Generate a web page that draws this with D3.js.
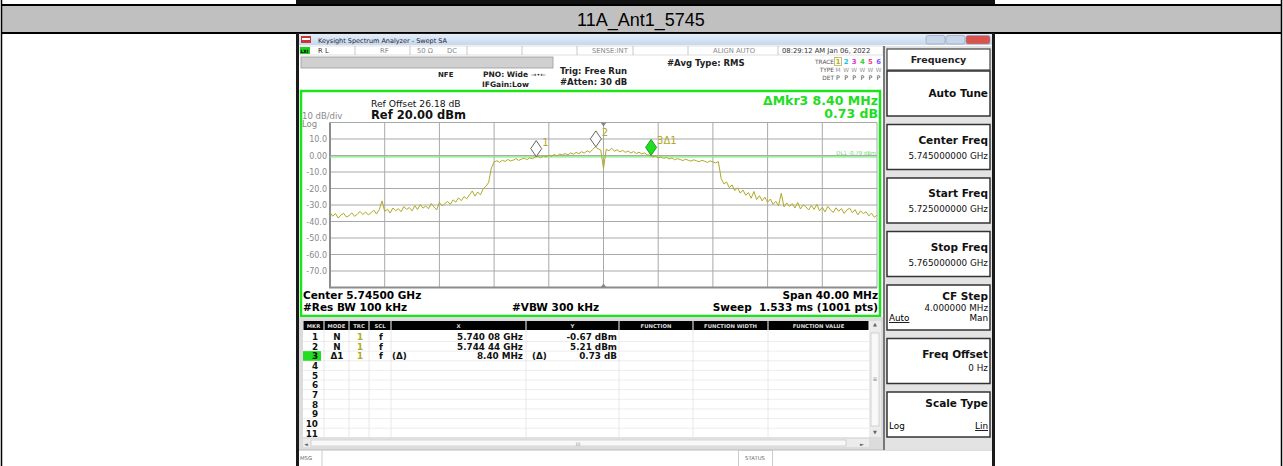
<!DOCTYPE html>
<html>
<head>
<meta charset="utf-8">
<script src="https://cdn.jsdelivr.net/npm/d3@7/dist/d3.min.js"></script>
<style>
body{margin:0;background:#fff;}
svg text{font-family:"DejaVu Sans",Verdana,sans-serif;}
svg text.title{font-family:"Liberation Sans",Arial,sans-serif;}
</style>
</head>
<body>
<svg id="chart" width="1283" height="466"></svg>
<script>
var title = "11A_Ant1_5745";
var freqStart = 5725, freqStop = 5765, freqStep = 0.2;   // MHz
var refLevel = 20, bottomLevel = -80;
var yTicks = [10, 0, -10, -20, -30, -40, -50, -60, -70];
var xGrid = [5725, 5729, 5733, 5737, 5741, 5745, 5749, 5753, 5757, 5761, 5765];

// trace 1, dBm, one value every 0.2 MHz
var traceDbm = [
 -34.5,-36.8,-35.2,-37.9,-36.1,-35.0,-37.3,-36.4,-34.8,-36.9,
 -35.5,-33.9,-35.8,-34.2,-36.0,-34.7,-33.1,-35.4,-32.9,-27.5,
 -33.8,-32.6,-34.9,-31.8,-33.5,-32.2,-34.1,-30.9,-32.7,-31.5,
 -33.6,-30.4,-32.8,-29.7,-31.9,-30.6,-32.3,-29.1,-31.2,-33.0,
 -28.4,
 -30.5,-29.2,-27.8,-29.6,-26.9,-28.3,-25.7,-27.4,-24.9,-26.2,
 -23.8,-21.5,-24.6,-22.1,-23.9,-20.2,-18.7,-16.4,
 -7.5,-3.9,
 -3.2,-4.1,-2.9,-3.6,-2.4,-3.3,-2.8,-1.9,-3.0,-2.2,-1.6,-2.5,-1.4,-2.0,-0.9,
 -0.6,-1.3,-0.2,-0.9,0.1,-0.5,0.6,-0.2,0.9,0.3,1.2,0.4,1.6,0.8,1.9,1.1,2.3,1.5,2.8,1.9,
 3.6,5.2,4.1,3.3,
 -7.8,
 3.8,2.9,4.4,2.6,3.5,2.2,3.1,1.9,2.7,1.5,2.4,1.2,2.0,0.9,1.6,0.4,0.1,
 -0.8,-0.3,-1.4,-0.9,-1.8,-1.2,-2.1,-1.5,-2.6,-1.9,-2.4,-3.1,-2.2,-2.9,-3.4,-2.6,-3.2,-3.8,-2.9,-3.5,-4.2,-3.3,-3.9,-4.5,-3.7,
 -13.8,-17.2,-16.1,-19.5,-17.8,-21.3,-19.6,-22.8,-20.9,-24.1,-22.5,-25.9,-21.8,-26.7,-24.4,-27.5,-25.2,-28.3,
 -26.4,-29.6,-27.8,-30.4,-22.9,-31.2,-28.7,-30.9,-29.1,-31.8,
 -28.5,-32.4,-29.9,-31.1,-33.0,-30.2,-32.7,-29.6,-33.5,-31.4,
 -34.2,-30.8,-32.9,-34.6,-31.7,-33.8,-32.2,-35.1,-33.0,-31.9,
 -34.7,-32.8,-36.0,-33.5,-35.2,-34.1,-36.6,-35.0,-37.4,-36.2
];

var markerLabels = ["1", "2", "3\u03941"];
var markerFreqs = [5740.08, 5744.44, 5748.48];
var markerLevels = [-0.67, 5.21, 0.06];
var markerFilled = [false, false, true];
var displayLine = -0.79;

var tableHeaders = ["MKR", "MODE", "TRC", "SCL", "X", "Y", "FUNCTION", "FUNCTION WIDTH", "FUNCTION VALUE"];
var tableMkr = ["1","2","3","4","5","6","7","8","9","10","11"];
var tableMode = ["N", "N", "\u03941"];
var tableX = ["5.740 08 GHz", "5.744 44 GHz", "8.40 MHz"];
var tableY = ["-0.67 dBm", "5.21 dBm", "0.73 dB"];

var softLabels = ["Auto Tune", "Center Freq", "Start Freq", "Stop Freq", "CF Step", "Freq Offset", "Scale Type"];
var softValues = ["", "5.745000000 GHz", "5.725000000 GHz", "5.765000000 GHz", "4.000000 MHz", "0 Hz", ""];

var svg = d3.select("#chart");
var green = "#19e619";
var olive = "#b0a926";

// ---- outer report table ----
svg.append("rect").attr("x", 296).attr("y", 0).attr("width", 699).attr("height", 4).attr("fill", "#111");
svg.append("rect").attr("x", 2).attr("y", 6).attr("width", 1279).attr("height", 27).attr("fill", "#c0c0c0");
[5, 33].forEach(function(yy){
    svg.append("line").attr("x1", 1).attr("x2", 1282).attr("y1", yy).attr("y2", yy)
        .attr("stroke", "#000").attr("stroke-width", 2);
});
[1.5, 1281.5].forEach(function(xx){
    svg.append("line").attr("x1", xx).attr("x2", xx).attr("y1", 0).attr("y2", 466)
        .attr("stroke", "#000").attr("stroke-width", 1.5);
});
svg.append("text").attr("class", "title").attr("x", 641).attr("y", 26).attr("text-anchor", "middle")
    .style("font-size", "18px").attr("fill", "#000").text(title);

// ---- analyzer window frame ----
svg.append("rect").attr("x", 296).attr("y", 33).attr("width", 699).attr("height", 433).attr("fill", "#1a1a1a");
svg.append("rect").attr("x", 299).attr("y", 34).attr("width", 693).attr("height", 432).attr("fill", "#fff");
var tb = svg.append("defs").append("linearGradient").attr("id", "tbar").attr("x1", 0).attr("x2", 0).attr("y1", 0).attr("y2", 1);
tb.append("stop").attr("offset", 0).attr("stop-color", "#e4eef9");
tb.append("stop").attr("offset", 1).attr("stop-color", "#c6d8ee");
svg.append("rect").attr("x", 299).attr("y", 34).attr("width", 693).attr("height", 11).attr("fill", "url(#tbar)");
svg.append("rect").attr("x", 301).attr("y", 36).attr("width", 10).attr("height", 7).attr("fill", "#c33");
svg.append("rect").attr("x", 302).attr("y", 38).attr("width", 8).attr("height", 2).attr("fill", "#fff");
svg.append("text").attr("x", 318).attr("y", 42.5).style("font-size", "6.5px").attr("fill", "#223").text("Keysight Spectrum Analyzer - Swept SA");
[[926, "#c8d6ea"], [946, "#c8d6ea"], [966, "#d9534f"]].forEach(function(b){
    svg.append("rect").attr("x", b[0]).attr("y", 35.5).attr("width", b[0] == 966 ? 24 : 19).attr("height", 8.5)
        .attr("rx", 2).attr("fill", b[1]).attr("stroke", "#8a9bb5").attr("stroke-width", 0.6);
});

// status line
svg.append("rect").attr("x", 300).attr("y", 46).attr("width", 583).attr("height", 9).attr("fill", "#fff").attr("stroke", "#c8c8c8").attr("stroke-width", 0.6);
[355, 410, 467, 522, 577, 633, 688, 778].forEach(function(xx){
    svg.append("line").attr("x1", xx).attr("x2", xx).attr("y1", 46).attr("y2", 55).attr("stroke", "#bbb").attr("stroke-width", 0.8);
});
svg.append("rect").attr("x", 300).attr("y", 47).attr("width", 10).attr("height", 7).attr("fill", "#22cc22");
svg.append("text").attr("x", 300.5).attr("y", 53).style("font-size", "4.5px").style("font-weight", "bold").text("LXI");
var statusTexts = [[318, "R L", "#333"], [380, "RF", "#888"], [417, "50 \u03a9", "#888"], [447, "DC", "#888"],
    [592, "SENSE:INT", "#888"], [713, "ALIGN AUTO", "#888"], [782, "08:29:12 AM Jan 06, 2022", "#333"]];
statusTexts.forEach(function(t){
    svg.append("text").attr("x", t[0]).attr("y", 53).style("font-size", "6.8px").attr("fill", t[2]).text(t[1]);
});
svg.append("rect").attr("x", 301).attr("y", 57).attr("width", 252).attr("height", 11).attr("fill", "#d0d0d0").attr("stroke", "#999").attr("stroke-width", 0.8);

var infoTexts = [[438, 77, "NFE", 7], [483, 77, "PNO: Wide", 7.5], [482, 87, "IFGain:Low", 7.5],
    [560, 74, "Trig: Free Run", 8.5], [560, 85, "#Atten: 30 dB", 8.5], [667, 66, "#Avg Type: RMS", 8.5]];
infoTexts.forEach(function(t){
    svg.append("text").attr("x", t[0]).attr("y", t[1]).style("font-size", t[3] + "px").style("font-weight", "bold")
        .attr("fill", "#222").text(t[2]);
});
svg.append("text").attr("x", 531).attr("y", 76.5).style("font-size", "6.5px").attr("fill", "#333").text("\u2192\u2022\u2190");
[["TRACE", 64], ["TYPE", 72], ["DET", 80]].forEach(function(t){
    svg.append("text").attr("x", 834).attr("y", t[1]).attr("text-anchor", "end").style("font-size", "5.8px").attr("fill", "#555").text(t[0]);
});
var traceColors = [olive, "#17c6e6", "#e02ee0", "#2ed12e", "#ff3a7a", "#7a5cff"];
traceColors.forEach(function(c, i){
    var xx = 838 + i * 8.1;
    svg.append("text").attr("x", xx).attr("y", 64).attr("text-anchor", "middle").style("font-size", "6.8px").style("font-weight", "bold").attr("fill", c).text(i + 1);
    svg.append("text").attr("x", xx).attr("y", 72).attr("text-anchor", "middle").style("font-size", "5.8px").attr("fill", "#999").text(i == 0 ? "M" : "W");
    svg.append("text").attr("x", xx).attr("y", 80).attr("text-anchor", "middle").style("font-size", "6.3px").attr("fill", "#444").text("P");
});
svg.append("rect").attr("x", 834.5).attr("y", 57.5).attr("width", 7).attr("height", 8).attr("fill", "none").attr("stroke", olive).attr("stroke-width", 0.7);

// ---- plot panel ----
svg.append("rect").attr("x", 301).attr("y", 91).attr("width", 579).attr("height", 225)
    .attr("fill", "#fff").attr("stroke", green).attr("stroke-width", 2.5);

var x = d3.scaleLinear().domain([freqStart, freqStop]).range([330, 877]);
var y = d3.scaleLinear().domain([bottomLevel, refLevel]).range([287.5, 122.5]);

var grid = svg.append("g");
grid.selectAll("line.h").data(d3.range(bottomLevel, refLevel + 1, 10)).enter().append("line")
    .attr("x1", x(freqStart)).attr("x2", x(freqStop))
    .attr("y1", function(d){ return y(d); }).attr("y2", function(d){ return y(d); })
    .attr("stroke", "#a9a9a9").attr("stroke-width", 1);
grid.selectAll("line.v").data(xGrid).enter().append("line")
    .attr("x1", function(d){ return x(d); }).attr("x2", function(d){ return x(d); })
    .attr("y1", y(refLevel)).attr("y2", y(bottomLevel))
    .attr("stroke", "#a9a9a9").attr("stroke-width", 1);
grid.append("path")
    .attr("d", "M" + x(freqStart) + "," + y(refLevel) + "V" + y(bottomLevel) + "H" + x(freqStop))
    .attr("fill", "none").attr("stroke", "#8c8c8c").attr("stroke-width", 2);

var yAxis = d3.axisLeft(y).tickValues(yTicks).tickSize(0).tickPadding(3)
    .tickFormat(function(d){ return d == 0 ? "0.00" : d.toFixed(1); });
var ya = svg.append("g").attr("transform", "translate(" + x(freqStart) + ",0)").call(yAxis);
ya.select(".domain").remove();
ya.selectAll("text").style("font-size", "8px").style("font-family", "DejaVu Sans, Verdana, sans-serif").attr("fill", "#8a8a8a");

svg.append("text").attr("x", 302).attr("y", 119).style("font-size", "8.5px").attr("fill", "#8a8a8a").text("10 dB/div");
svg.append("text").attr("x", 302).attr("y", 127).style("font-size", "8.5px").attr("fill", "#8a8a8a").text("Log");
svg.append("text").attr("x", 371).attr("y", 107).style("font-size", "9.2px").attr("fill", "#111").text("Ref Offset 26.18 dB");
svg.append("text").attr("x", 371).attr("y", 119).style("font-size", "11.5px").style("font-weight", "bold").attr("fill", "#111").text("Ref 20.00 dBm");
svg.append("text").attr("x", 878).attr("y", 105).attr("text-anchor", "end").style("font-size", "12.5px").style("font-weight", "bold")
    .attr("fill", "#22dd22").text("\u0394Mkr3 8.40 MHz");
svg.append("text").attr("x", 878).attr("y", 118).attr("text-anchor", "end").style("font-size", "12.5px").style("font-weight", "bold")
    .attr("fill", "#22dd22").text("0.73 dB");

// display line
svg.append("line").attr("x1", x(freqStart)).attr("x2", x(freqStop)).attr("y1", y(displayLine)).attr("y2", y(displayLine))
    .attr("stroke", "#7ce87c").attr("stroke-width", 1.2);
svg.append("text").attr("x", 876).attr("y", y(displayLine) - 2).attr("text-anchor", "end").style("font-size", "5.3px")
    .attr("fill", "#6bdc6b").text("DL1 -0.79 dBm");

// center markers (triangles)
var cx = x((freqStart + freqStop) / 2);
svg.append("path").attr("d", "M" + (cx - 3) + "," + y(refLevel) + "h6l-3,4z").attr("fill", "#888");
svg.append("path").attr("d", "M" + (cx - 3) + "," + y(bottomLevel) + "h6l-3,-4z").attr("fill", "#888");

// trace
var line = d3.line()
    .x(function(d, i){ return x(freqStart + i * freqStep); })
    .y(function(d){ return y(d); });
svg.append("path").datum(traceDbm).attr("d", line).attr("fill", "none").attr("stroke", olive).attr("stroke-width", 1);

// markers
markerFreqs.forEach(function(f, i){
    var mx = x(f), my = y(markerLevels[i]);
    svg.append("path").attr("d", "M" + mx + "," + my + "l5.5,-8l-5.5,-8l-5.5,8z")
        .attr("fill", markerFilled[i] ? "#22dd22" : "#fff").attr("stroke", markerFilled[i] ? "#119911" : "#555").attr("stroke-width", 0.9);
    svg.append("text").attr("x", mx + 6).attr("y", my - 11).style("font-size", "10px").attr("fill", olive).text(markerLabels[i]);
});

svg.append("text").attr("x", 303).attr("y", 299).style("font-size", "10.5px").style("font-weight", "bold").text("Center 5.74500 GHz");
svg.append("text").attr("x", 303).attr("y", 311).style("font-size", "10.5px").style("font-weight", "bold").text("#Res BW 100 kHz");
svg.append("text").attr("x", 512).attr("y", 311).style("font-size", "10.5px").style("font-weight", "bold").text("#VBW 300 kHz");
svg.append("text").attr("x", 878).attr("y", 299).attr("text-anchor", "end").style("font-size", "10.5px").style("font-weight", "bold").text("Span 40.00 MHz");
svg.append("text").attr("x", 878).attr("y", 311).attr("text-anchor", "end").style("font-size", "10.5px").style("font-weight", "bold")
    .attr("xml:space", "preserve").text("Sweep  1.533 ms (1001 pts)");

// ---- marker table ----
svg.append("rect").attr("x", 299).attr("y", 317).attr("width", 585).attr("height", 133).attr("fill", "#dcdcdc");
svg.append("rect").attr("x", 303).attr("y", 321).attr("width", 566).attr("height", 116).attr("fill", "#fff");
var colEdges = [303, 324, 349, 369, 391, 526, 619, 693, 768, 869];
var rowY = function(k){ return 336.7 + k * 9.63; };
tableHeaders.forEach(function(h, i){
    svg.append("rect").attr("x", colEdges[i] + 0.5).attr("y", 321).attr("width", colEdges[i + 1] - colEdges[i] - 1).attr("height", 9)
        .attr("fill", "#000");
    svg.append("text").attr("x", (colEdges[i] + colEdges[i + 1]) / 2).attr("y", 328).attr("text-anchor", "middle")
        .style("font-size", "5.3px").style("font-weight", "bold").attr("fill", "#ddd").text(h);
});
tableMkr.forEach(function(m, k){
    svg.append("line").attr("x1", 303).attr("x2", 869).attr("y1", rowY(k) + 4.8).attr("y2", rowY(k) + 4.8)
        .attr("stroke", "#e8e8e8").attr("stroke-width", 0.8);
});
colEdges.slice(1, -1).forEach(function(cx2){
    svg.append("line").attr("x1", cx2).attr("x2", cx2).attr("y1", 330).attr("y2", 437).attr("stroke", "#e2e2e2").attr("stroke-width", 0.8);
});
svg.append("rect").attr("x", 303).attr("y", rowY(2) - 4.8).attr("width", 18).attr("height", 9.6).attr("fill", "#22dd22");
var cell = function(xx, k, txt, anchor, color){
    svg.append("text").attr("x", xx).attr("y", rowY(k) + 3.5).attr("text-anchor", anchor)
        .style("font-size", "8.8px").style("font-weight", "bold").attr("fill", color || "#111").text(txt);
};
tableMkr.forEach(function(m, k){ cell(318, k, m, "end"); });
tableMode.forEach(function(m, k){
    cell(337, k, m, "middle");
    cell(360, k, "1", "middle", olive);
    cell(381, k, "f", "middle");
    cell(523, k, tableX[k], "end");
    cell(617, k, tableY[k], "end");
});
cell(392, 2, "(\u0394)", "start");
cell(532, 2, "(\u0394)", "start");

// scroll bars
svg.append("rect").attr("x", 869).attr("y", 321).attr("width", 12).attr("height", 116).attr("fill", "#ececec");
svg.append("rect").attr("x", 871).attr("y", 333).attr("width", 8).attr("height", 93).attr("fill", "#f8f8f8").attr("stroke", "#bbb").attr("stroke-width", 0.6);
svg.append("text").attr("x", 875).attr("y", 326).attr("text-anchor", "middle").style("font-size", "5px").attr("fill", "#666").text("\u25b2");
svg.append("text").attr("x", 875).attr("y", 434).attr("text-anchor", "middle").style("font-size", "5px").attr("fill", "#666").text("\u25bc");
svg.append("text").attr("x", 875).attr("y", 381).attr("text-anchor", "middle").style("font-size", "6px").attr("fill", "#888").text("\u2261");
svg.append("rect").attr("x", 303).attr("y", 439).attr("width", 566).attr("height", 8).attr("fill", "#ececec");
svg.append("rect").attr("x", 311).attr("y", 440).attr("width", 535).attr("height", 6).attr("fill", "#f8f8f8").attr("stroke", "#bbb").attr("stroke-width", 0.6);
svg.append("text").attr("x", 306).attr("y", 445.5).attr("text-anchor", "middle").style("font-size", "5px").attr("fill", "#666").text("\u25c4");
svg.append("text").attr("x", 862).attr("y", 445.5).attr("text-anchor", "middle").style("font-size", "5px").attr("fill", "#666").text("\u25ba");
svg.append("text").attr("x", 578).attr("y", 445.5).attr("text-anchor", "middle").style("font-size", "5px").attr("fill", "#999").text("III");

// message line
svg.append("rect").attr("x", 299).attr("y", 450).attr("width", 693).attr("height", 16).attr("fill", "#fff");
svg.append("line").attr("x1", 299).attr("x2", 992).attr("y1", 450).attr("y2", 450).attr("stroke", "#bbb");
svg.append("line").attr("x1", 322).attr("x2", 322).attr("y1", 450).attr("y2", 466).attr("stroke", "#ccc");
svg.append("text").attr("x", 300).attr("y", 460).style("font-size", "5.3px").attr("fill", "#666").text("MSG");
svg.append("rect").attr("x", 738.5).attr("y", 450.5).attr("width", 34).attr("height", 16).attr("fill", "#fff").attr("stroke", "#ccc");
svg.append("text").attr("x", 755).attr("y", 460).attr("text-anchor", "middle").style("font-size", "5.3px").attr("fill", "#666").text("STATUS");

// ---- softkey panel ----
svg.append("rect").attr("x", 883).attr("y", 46).attr("width", 109).attr("height", 404).attr("fill", "#e3e3e3");
svg.append("line").attr("x1", 884).attr("x2", 884).attr("y1", 46).attr("y2", 450).attr("stroke", "#555").attr("stroke-width", 1.5);
svg.append("rect").attr("x", 887).attr("y", 49).attr("width", 103).attr("height", 21).attr("fill", "#fff").attr("stroke", "#444").attr("stroke-width", 1.2);
svg.append("text").attr("x", 938.5).attr("y", 62.5).attr("text-anchor", "middle").style("font-size", "9.5px").style("font-weight", "bold").attr("fill", "#222").text("Frequency");

var keyTop = function(i){ return 71 + i * 53.5; };
softLabels.forEach(function(lbl, i){
    var top = keyTop(i);
    svg.append("rect").attr("x", 887).attr("y", top).attr("width", 103).attr("height", 45)
        .attr("fill", "#fff").attr("stroke", "#333").attr("stroke-width", 1.5);
    var ly = 19, vy = 34;
    if (lbl == "Auto Tune") ly = 26;
    if (lbl == "CF Step") { ly = 15; vy = 26; }
    if (lbl == "Freq Offset") vy = 32;
    if (lbl == "Scale Type") ly = 15;
    svg.append("text").attr("x", 988).attr("y", top + ly).attr("text-anchor", "end")
        .style("font-size", "10.5px").style("font-weight", "bold").attr("fill", "#111").text(lbl);
    if (softValues[i]) {
        svg.append("text").attr("x", 988).attr("y", top + vy).attr("text-anchor", "end")
            .style("font-size", "8.8px").attr("fill", "#111").text(softValues[i]);
    }
});
svg.append("text").attr("x", 889).attr("y", keyTop(4) + 36).style("font-size", "8.8px").style("text-decoration", "underline").text("Auto");
svg.append("text").attr("x", 988).attr("y", keyTop(4) + 36).attr("text-anchor", "end").style("font-size", "8.8px").text("Man");
svg.append("text").attr("x", 889).attr("y", keyTop(6) + 37).style("font-size", "8.8px").text("Log");
svg.append("text").attr("x", 988).attr("y", keyTop(6) + 37).attr("text-anchor", "end").style("font-size", "8.8px").style("text-decoration", "underline").text("Lin");
</script>
</body>
</html>
